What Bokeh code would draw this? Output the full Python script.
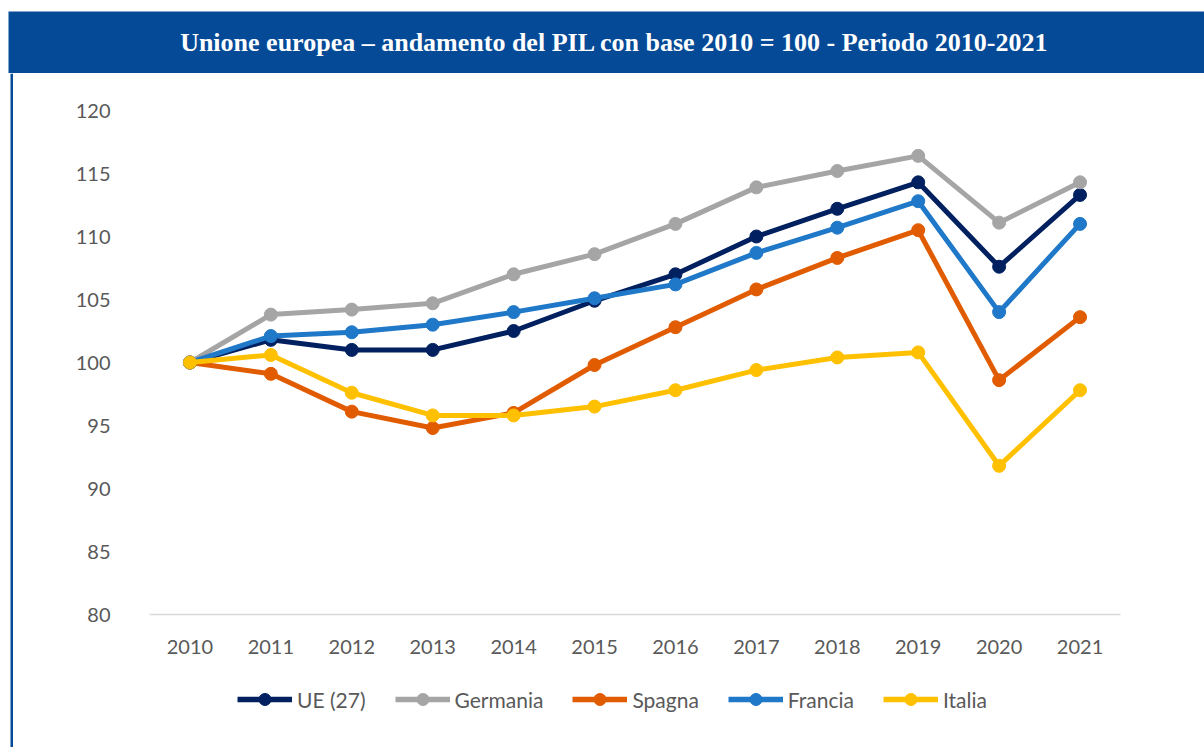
from bokeh.plotting import figure
from bokeh.layouts import column, row
from bokeh.models import FixedTicker, Legend, LegendItem
from bokeh.core.properties import value
from bokeh.embed import file_html
from bokeh.resources import INLINE

years = [2010, 2011, 2012, 2013, 2014, 2015, 2016, 2017, 2018, 2019, 2020, 2021]
ue = [100.0, 101.8, 101.0, 101.0, 102.5, 104.9, 107.0, 110.0, 112.2, 114.3, 107.6, 113.3]
germania = [100.0, 103.8, 104.2, 104.7, 107.0, 108.6, 111.0, 113.9, 115.2, 116.4, 111.1, 114.3]
spagna = [100.0, 99.1, 96.1, 94.8, 96.0, 99.8, 102.8, 105.8, 108.3, 110.5, 98.6, 103.6]
francia = [100.0, 102.1, 102.4, 103.0, 104.0, 105.1, 106.2, 108.7, 110.7, 112.8, 104.0, 111.0]
italia = [100.0, 100.6, 97.6, 95.8, 95.8, 96.5, 97.8, 99.4, 100.4, 100.8, 91.8, 97.8]
series_names = ["UE (27)", "Germania", "Spagna", "Francia", "Italia"]
series_values = [ue, germania, spagna, francia, italia]
series_colors = ["#002060", "#A5A5A5", "#E15B00", "#1F78C8", "#FFC000"]
y_ticks = [80, 85, 90, 95, 100, 105, 110, 115, 120]
title_text = "Unione europea \u2013 andamento del PIL con base 2010 = 100 - Periodo 2010-2021"

BAR = "#044A97"
TEXT_GRAY = "#595959"


def bare(w, h, xr, yr):
    f = figure(width=w, height=h, x_range=xr, y_range=yr,
               x_axis_type=None, y_axis_type=None, toolbar_location=None,
               output_backend="svg", min_border=0)
    f.frame_align = False
    f.outline_line_color = None
    f.grid.visible = False
    return f


# Title bar
tf = bare(1204, 73, (0, 1204), (0, 73))
tf.quad(left=8, right=1204, bottom=0, top=62, fill_color=BAR, line_color=None)
tf.text(x=[614], y=[31], text=[title_text], text_color="white",
        text_font=value("Liberation Serif"), text_font_style="bold",
        text_font_size="26px", text_align="center", text_baseline="middle")

# Left border strip
sf = bare(13, 674, (0, 13), (0, 1))
sf.quad(left=10, right=13, bottom=0, top=1, fill_color=BAR, line_color=None)

# Chart
p = figure(width=1191, height=587, x_range=(2009.5, 2021.5), y_range=(80, 120),
           toolbar_location=None, output_backend="svg",
           min_border_left=136, min_border_right=84, min_border_top=37, min_border_bottom=46)
p.frame_align = False
p.outline_line_color = None
p.grid.visible = False

p.xaxis.ticker = FixedTicker(ticks=years)
p.xaxis.axis_line_color = "#D9D9D9"
p.xaxis.axis_line_width = 1.5
p.xaxis.major_tick_line_color = None
p.xaxis.minor_tick_line_color = None
p.xaxis.major_label_standoff = 19
p.yaxis.ticker = FixedTicker(ticks=y_ticks)
p.yaxis.axis_line_color = None
p.yaxis.major_tick_line_color = None
p.yaxis.minor_tick_line_color = None
p.yaxis.major_label_standoff = 33
for ax in (p.xaxis, p.yaxis):
    ax.major_label_text_font = "Lato"
    ax.major_label_text_font_size = "20px"
    ax.major_label_text_color = TEXT_GRAY

for name, vals, col in zip(series_names, series_values, series_colors):
    p.line(years, vals, line_color=col, line_width=5)
    p.scatter(years, vals, size=13, fill_color=col, line_color=col)

# Legend panel: same series drawn off-frame, only their legend keys are visible
lf = bare(1191, 87, (0, 1), (0, 1))
items = []
for name, vals, col in zip(series_names, series_values, series_colors):
    ln = lf.line(years, vals, line_color=col, line_width=5.5)
    sc = lf.scatter(years, vals, size=12, fill_color=col, line_color=col)
    items.append(LegendItem(label=name, renderers=[ln, sc]))
legend = Legend(items=items, orientation="horizontal", location=(224, 33),
                glyph_width=55, glyph_height=30, label_standoff=5, spacing=29,
                padding=0, margin=0, border_line_color=None, background_fill_alpha=0,
                label_text_font="Lato", label_text_font_size="21px",
                label_text_color=TEXT_GRAY)
lf.add_layout(legend, "center")

layout = column(tf, row(sf, column(p, lf, spacing=0), spacing=0), spacing=0)
open("out.html", "w").write(file_html(layout, INLINE))
